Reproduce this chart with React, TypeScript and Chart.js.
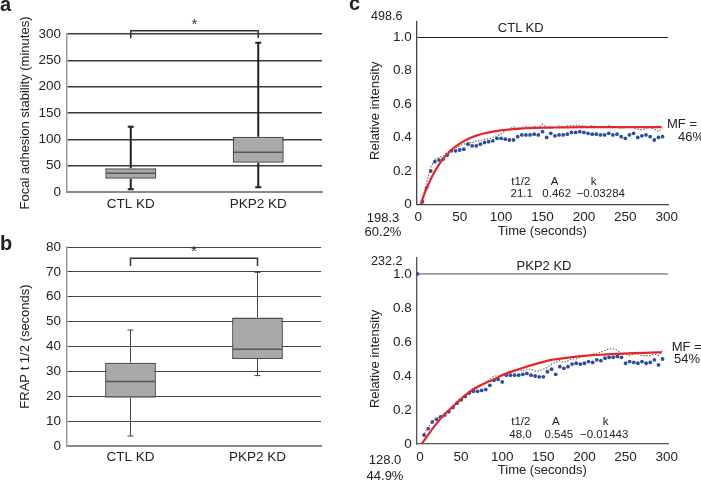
import React, { useEffect, useRef } from 'react';
import { Chart, registerables } from 'chart.js';

Chart.register(...registerables);

const FONT = '"Liberation Sans", Arial, Helvetica, sans-serif';
Chart.defaults.font.family = FONT;

// ---------- Panel a : focal adhesion stability (minutes) ----------
const groups = ['CTL KD', 'PKP2 KD'];
const aMin = [5, 9];
const aQ1 = [25.3, 55.7];
const aMedian = [35.5, 75.3];
const aQ3 = [45, 105];
const aMax = [124, 283.5];

// ---------- Panel b : FRAP t 1/2 (seconds) ----------
const bMin = [4, 28.3];
const bQ1 = [19.4, 35];
const bMedian = [25.9, 38.9];
const bQ3 = [33.5, 51.7];
const bMax = [46.6, 69.8];

// ---------- Panel c : FRAP recovery curves ----------
const frapTimes = [5, 10, 15, 20, 25, 30, 35, 40, 45, 50, 55, 60, 65, 70, 75, 80, 85, 90, 95, 100,
  105, 110, 115, 120, 125, 130, 135, 140, 145, 150, 155, 160, 165, 170, 175, 180, 185, 190, 195, 200,
  205, 210, 215, 220, 225, 230, 235, 240, 245, 250, 255, 260, 265, 270, 275, 280, 285, 290, 295];

const ctlNormalized = [0.016, 0.10, 0.20, 0.255, 0.265, 0.27, 0.295, 0.32, 0.32, 0.325,
  0.33, 0.36, 0.35, 0.35, 0.36, 0.37, 0.375, 0.38, 0.395, 0.395,
  0.39, 0.385, 0.385, 0.405, 0.415, 0.415, 0.415, 0.42, 0.415, 0.435,
  0.40, 0.425, 0.41, 0.415, 0.415, 0.42, 0.43, 0.43, 0.435, 0.43,
  0.425, 0.42, 0.42, 0.415, 0.415, 0.425, 0.415, 0.42, 0.405, 0.395,
  0.415, 0.425, 0.40, 0.41, 0.415, 0.405, 0.385, 0.40, 0.405];
const ctlRaw = [0.03, 0.13, 0.22, 0.27, 0.28, 0.29, 0.31, 0.33, 0.34, 0.35,
  0.36, 0.37, 0.37, 0.38, 0.38, 0.39, 0.39, 0.40, 0.41, 0.42,
  0.44, 0.45, 0.465, 0.455, 0.46, 0.465, 0.46, 0.465, 0.46, 0.48,
  0.46, 0.465, 0.46, 0.47, 0.465, 0.47, 0.47, 0.475, 0.47, 0.47,
  0.465, 0.47, 0.465, 0.46, 0.465, 0.47, 0.465, 0.46, 0.455, 0.46,
  0.465, 0.46, 0.45, 0.445, 0.455, 0.46, 0.45, 0.435, 0.45];
const ctlFitTimes = [3, 5, 10, 15, 20, 25, 30, 40, 50, 60, 70, 80, 90, 100, 120, 140, 160, 180, 200, 240, 294];
const ctlFit = [0, 0.03, 0.095, 0.15, 0.198, 0.238, 0.272, 0.325, 0.363, 0.391, 0.411, 0.425, 0.435, 0.443,
  0.452, 0.457, 0.459, 0.461, 0.462, 0.462, 0.462];

const pkpNormalized = [0.053, 0.09, 0.13, 0.145, 0.16, 0.17, 0.19, 0.215, 0.24, 0.26,
  0.28, 0.30, 0.31, 0.31, 0.315, 0.32, 0.345, 0.375, 0.38, 0.365,
  0.405, 0.405, 0.405, 0.405, 0.41, 0.415, 0.405, 0.40, 0.395, 0.395,
  0.425, 0.44, 0.41, 0.455, 0.445, 0.455, 0.47, 0.475, 0.47, 0.475,
  0.485, 0.48, 0.495, 0.49, 0.505, 0.51, 0.51, 0.515, 0.51, 0.475,
  0.485, 0.48, 0.475, 0.485, 0.475, 0.48, 0.495, 0.465, 0.50];
const pkpRaw = [0.06, 0.10, 0.13, 0.15, 0.16, 0.18, 0.20, 0.22, 0.25, 0.27,
  0.29, 0.31, 0.33, 0.34, 0.35, 0.36, 0.38, 0.40, 0.40, 0.41,
  0.42, 0.43, 0.43, 0.44, 0.43, 0.44, 0.44, 0.43, 0.43, 0.44,
  0.45, 0.47, 0.48, 0.49, 0.48, 0.49, 0.50, 0.50, 0.51, 0.52,
  0.52, 0.53, 0.53, 0.54, 0.55, 0.56, 0.56, 0.55, 0.53, 0.53,
  0.52, 0.53, 0.53, 0.52, 0.52, 0.52, 0.53, 0.52, 0.55];
const pkpFitTimes = [2, 10, 20, 30, 40, 50, 60, 70, 80, 90, 100, 120, 140, 160, 180, 200, 220, 240, 260, 280, 294];
const pkpFit = [0, 0.055, 0.12, 0.175, 0.22, 0.265, 0.305, 0.335, 0.36, 0.38, 0.405, 0.44, 0.47, 0.495,
  0.508, 0.518, 0.525, 0.53, 0.534, 0.537, 0.539];
const pkpPreTimes = [-3];
const pkpPre = [1.0];

// ---------- text annotations ----------
type Lbl = { t: string; x: number; y: number; size: number; bold?: boolean; left?: boolean };
const annotations: Lbl[] = [
  { t: 'a', x: 0, y: 4, size: 20, bold: true, left: true },
  { t: 'b', x: 0, y: 243, size: 20, bold: true, left: true },
  { t: 'c', x: 349, y: 3, size: 20, bold: true, left: true },
  { t: '498.6', x: 386.7, y: 16, size: 12.5 },
  { t: 'CTL KD', x: 520.7, y: 26.7, size: 13 },
  { t: 'MF =', x: 667, y: 122.7, size: 13, left: true },
  { t: '46%', x: 678, y: 135.5, size: 13, left: true },
  { t: 't1/2', x: 520.8, y: 181.7, size: 11.5 },
  { t: 'A', x: 554.7, y: 181.7, size: 11.5 },
  { t: 'k', x: 593.7, y: 181.7, size: 11.5 },
  { t: '21.1', x: 521.7, y: 194, size: 11.5 },
  { t: '0.462', x: 556.7, y: 194, size: 11.5 },
  { t: '\u22120.03284', x: 600.8, y: 194, size: 11.5 },
  { t: '198.3', x: 383, y: 216.7, size: 13 },
  { t: '60.2%', x: 383, y: 231, size: 13 },
  { t: '232.2', x: 386.7, y: 260.7, size: 12.5 },
  { t: 'PKP2 KD', x: 544, y: 265, size: 13 },
  { t: 'MF =', x: 671.7, y: 346, size: 13, left: true },
  { t: '54%', x: 674, y: 358.3, size: 13, left: true },
  { t: 't1/2', x: 520.8, y: 422.3, size: 11.5 },
  { t: 'A', x: 555.8, y: 422.3, size: 11.5 },
  { t: 'k', x: 605.7, y: 422.3, size: 11.5 },
  { t: '48.0', x: 520.5, y: 435, size: 11.5 },
  { t: '0.545', x: 558.8, y: 435, size: 11.5 },
  { t: '\u22120.01443', x: 604.2, y: 435, size: 11.5 },
  { t: '128.0', x: 385, y: 459.3, size: 13 },
  { t: '44.9%', x: 385, y: 475, size: 13 },
];

// ---------- plugins ----------
const boxPlugin = {
  id: 'boxExtras',
  afterDatasetsDraw(chart: any, _args: any, opts: any) {
    const { ctx } = chart;
    const x = chart.scales.x;
    const y = chart.scales.y;
    const meta = chart.getDatasetMeta(0);
    ctx.save();
    opts.min.forEach((_v: number, i: number) => {
      const bar = meta.data[i];
      const cx = bar.x;
      const half = bar.width / 2;
      const pMin = y.getPixelForValue(opts.min[i]);
      const pQ1 = y.getPixelForValue(opts.q1[i]);
      const pMed = y.getPixelForValue(opts.median[i]);
      const pQ3 = y.getPixelForValue(opts.q3[i]);
      const pMax = y.getPixelForValue(opts.max[i]);
      ctx.strokeStyle = opts.whiskerColor;
      ctx.lineWidth = opts.whiskerWidth;
      ctx.beginPath();
      ctx.moveTo(cx, pQ3); ctx.lineTo(cx, pMax);
      ctx.moveTo(cx, pQ1); ctx.lineTo(cx, pMin);
      ctx.moveTo(cx - opts.cap, pMax); ctx.lineTo(cx + opts.cap, pMax);
      ctx.moveTo(cx - opts.cap, pMin); ctx.lineTo(cx + opts.cap, pMin);
      ctx.stroke();
      ctx.strokeStyle = opts.medianColor;
      ctx.lineWidth = opts.medianWidth;
      ctx.beginPath();
      ctx.moveTo(cx - half + 1, pMed); ctx.lineTo(cx + half - 1, pMed);
      ctx.stroke();
    });
    const x0 = x.getPixelForValue(0);
    const x1 = x.getPixelForValue(1);
    const top = y.getPixelForValue(opts.bracketTop);
    const leg = y.getPixelForValue(opts.bracketLeg);
    ctx.strokeStyle = '#333';
    ctx.lineWidth = 1.5;
    ctx.beginPath();
    ctx.moveTo(x0, leg); ctx.lineTo(x0, top); ctx.lineTo(x1, top); ctx.lineTo(x1, leg);
    ctx.stroke();
    ctx.fillStyle = '#333';
    ctx.font = `15px ${FONT}`;
    ctx.textAlign = 'center';
    ctx.textBaseline = 'middle';
    ctx.fillText('*', x.getPixelForValue(0.5), y.getPixelForValue(opts.star));
    ctx.restore();
  },
};

const frapPlugin = {
  id: 'frapExtras',
  afterDraw(chart: any, _args: any, opts: any) {
    const { ctx } = chart;
    const y = chart.scales.y;
    ctx.save();
    ctx.translate(opts.titleX, y.getPixelForValue(opts.titleValue));
    ctx.rotate(-Math.PI / 2);
    ctx.font = `13px ${FONT}`;
    ctx.fillStyle = '#222';
    ctx.textAlign = 'center';
    ctx.textBaseline = 'middle';
    ctx.fillText(opts.title, 0, 0);
    ctx.restore();
  },
};

function boxConfig(p: {
  min: number[]; q1: number[]; median: number[]; q3: number[]; max: number[];
  yMax: number; step: number; title: string; padTop: number; padRight: number; xHeight: number;
  gridColor: string; gridWidth: number; whiskerWidth: number; whiskerColor: string;
  bracketTop: number; bracketLeg: number; star: number; tickPad: number;
}): any {
  return {
    type: 'bar',
    data: {
      labels: groups,
      datasets: [{
        data: p.q1.map((q, i) => [q, p.q3[i]]),
        backgroundColor: '#a9a9a9',
        borderColor: '#4d4d4d',
        borderWidth: 1.5,
        borderSkipped: false,
        barPercentage: 0.4,
        categoryPercentage: 1,
      }],
    },
    options: {
      responsive: false,
      animation: false,
      events: [],
      layout: { padding: { top: p.padTop, right: p.padRight, left: 0, bottom: 0 } },
      plugins: {
        legend: { display: false },
        tooltip: { enabled: false },
        boxExtras: {
          min: p.min, q1: p.q1, median: p.median, q3: p.q3, max: p.max,
          whiskerColor: p.whiskerColor, whiskerWidth: p.whiskerWidth, cap: 3,
          medianColor: '#555', medianWidth: 1.5,
          bracketTop: p.bracketTop, bracketLeg: p.bracketLeg, star: p.star,
        },
      },
      scales: {
        x: {
          offset: true,
          grid: { display: false, drawTicks: false },
          border: { color: '#8a8a8a', width: 2 },
          ticks: { color: '#222', font: { size: 13.5 }, padding: p.tickPad },
          afterFit: (s: any) => { s.height = p.xHeight; },
        },
        y: {
          min: 0,
          max: p.yMax,
          ticks: { stepSize: p.step, color: '#222', font: { size: 13.5 }, padding: 6 },
          grid: {
            color: (c: any) => (c.tick && c.tick.value === 0 ? 'rgba(0,0,0,0)' : p.gridColor),
            lineWidth: p.gridWidth,
            drawTicks: false,
          },
          border: { color: '#9a9a9a', width: 1.5 },
          title: { display: true, text: p.title, color: '#222', font: { size: 13 }, padding: { top: 17.2, bottom: 0 } },
          afterFit: (s: any) => { s.width = 67; },
        },
      },
    },
    plugins: [boxPlugin],
  };
}

function frapConfig(p: {
  norm: number[]; raw: number[]; fitT: number[]; fit: number[]; preT: number[]; pre: number[];
  xMin: number; xMax: number; yMax: number; padTop: number; xHeight: number; titlePadBottom: number;
  tickPad: number; refColor: string; refWidth: number; axisColor: string; titleValue: number;
}): any {
  return {
    type: 'scatter',
    data: {
      datasets: [
        {
          data: p.fitT.map((t, i) => ({ x: t, y: p.fit[i] })),
          showLine: true,
          borderColor: '#e3262b',
          borderWidth: 2.2,
          pointRadius: 0,
          cubicInterpolationMode: 'monotone',
          order: 0,
        },
        {
          data: frapTimes.map((t, i) => ({ x: t, y: p.raw[i] })),
          showLine: true,
          borderColor: '#6f625a',
          borderWidth: 1.1,
          borderDash: [1.5, 1.5],
          pointRadius: 0,
          order: 1,
        },
        {
          data: frapTimes.map((t, i) => ({ x: t, y: p.norm[i] }))
            .concat(p.preT.map((t, i) => ({ x: t, y: p.pre[i] }))),
          showLine: false,
          pointRadius: 1.9,
          pointBackgroundColor: '#2d4e9e',
          pointBorderWidth: 0,
          order: 2,
        },
      ],
    },
    options: {
      responsive: false,
      animation: false,
      events: [],
      layout: { padding: { top: p.padTop, right: 33, left: 0, bottom: 0 } },
      plugins: {
        legend: { display: false },
        tooltip: { enabled: false },
        frapExtras: { title: 'Relative intensity', titleX: 25, titleValue: p.titleValue },
      },
      scales: {
        x: {
          type: 'linear',
          min: p.xMin,
          max: p.xMax,
          ticks: { stepSize: 50, includeBounds: false, color: '#222', font: { size: 13.5 }, padding: p.tickPad },
          grid: { display: false, drawTicks: false },
          border: { color: p.axisColor, width: 1.3 },
          title: { display: true, text: 'Time (seconds)', color: '#222', font: { size: 13 }, padding: { top: 0, bottom: p.titlePadBottom } },
          afterFit: (s: any) => { s.height = p.xHeight; },
        },
        y: {
          min: 0,
          max: p.yMax,
          ticks: {
            stepSize: 0.2,
            includeBounds: false,
            color: '#222',
            font: { size: 13.5 },
            padding: 5,
            callback: (v: any) => (Math.abs(Number(v)) < 1e-9 ? '0' : Number(v).toFixed(1)),
          },
          grid: {
            drawTicks: false,
            color: (c: any) => (c.tick && Math.abs(c.tick.value - 1) < 1e-6 ? p.refColor : 'rgba(0,0,0,0)'),
            lineWidth: p.refWidth,
          },
          border: { color: p.axisColor, width: 1.3 },
          afterFit: (s: any) => { s.width = 66.7; },
        },
      },
    },
    plugins: [frapPlugin],
  };
}

export default function App() {
  const aRef = useRef<HTMLCanvasElement>(null);
  const bRef = useRef<HTMLCanvasElement>(null);
  const c1Ref = useRef<HTMLCanvasElement>(null);
  const c2Ref = useRef<HTMLCanvasElement>(null);

  useEffect(() => {
    const charts: Chart[] = [];
    charts.push(new Chart(aRef.current as HTMLCanvasElement, boxConfig({
      min: aMin, q1: aQ1, median: aMedian, q3: aQ3, max: aMax,
      yMax: 300, step: 50, title: 'Focal adhesion stability (minutes)',
      padTop: 34, padRight: 23, xHeight: 38,
      gridColor: '#3a3a3a', gridWidth: 1.4, whiskerWidth: 2, whiskerColor: '#222',
      bracketTop: 306, bracketLeg: 292, star: 317, tickPad: 4.6,
    })));
    charts.push(new Chart(bRef.current as HTMLCanvasElement, boxConfig({
      min: bMin, q1: bQ1, median: bMedian, q3: bQ3, max: bMax,
      yMax: 80, step: 10, title: 'FRAP t 1/2 (seconds)',
      padTop: 17, padRight: 24, xHeight: 35,
      gridColor: '#444', gridWidth: 1, whiskerWidth: 1, whiskerColor: '#444',
      bracketTop: 75.5, bracketLeg: 72.4, star: 78, tickPad: 3.4,
    })));
    charts.push(new Chart(c1Ref.current as HTMLCanvasElement, frapConfig({
      norm: ctlNormalized, raw: ctlRaw, fitT: ctlFitTimes, fit: ctlFit, preT: [], pre: [],
      xMin: -1.93, xMax: 301.57, yMax: 1.093, padTop: 21.7, xHeight: 35.7, titlePadBottom: 0.5,
      tickPad: 4.6, refColor: '#222', refWidth: 1, axisColor: '#444', titleValue: 0.56,
    })));
    charts.push(new Chart(c2Ref.current as HTMLCanvasElement, frapConfig({
      norm: pkpNormalized, raw: pkpRaw, fitT: pkpFitTimes, fit: pkpFit, preT: pkpPreTimes, pre: pkpPre,
      xMin: -4, xMax: 301.6, yMax: 1.098, padTop: 17.3, xHeight: 37, titlePadBottom: 2.5,
      tickPad: 4.9, refColor: '#9a9a9a', refWidth: 1.8, axisColor: '#555', titleValue: 0.5,
    })));
    return () => { charts.forEach((c) => c.destroy()); };
  }, []);

  const abs = (left: number, top: number): React.CSSProperties => ({ position: 'absolute', left, top });

  return (
    <div style={{ position: 'absolute', left: 0, top: 0, width: 701, height: 481, background: '#fff', overflow: 'hidden', fontFamily: FONT }}>
      <canvas ref={aRef} width={345} height={230} style={abs(0, 0)} />
      <canvas ref={bRef} width={345} height={251} style={abs(0, 230)} />
      <canvas ref={c1Ref} width={351} height={240} style={abs(350, 0)} />
      <canvas ref={c2Ref} width={351} height={241} style={abs(350, 240)} />
      {annotations.map((l, i) => (
        <div
          key={i}
          style={{
            position: 'absolute',
            left: l.x,
            top: l.y,
            transform: l.left ? 'translate(0,-50%)' : 'translate(-50%,-50%)',
            fontSize: l.size,
            fontWeight: l.bold ? 700 : 400,
            lineHeight: 1,
            whiteSpace: 'nowrap',
            color: '#222',
          }}
        >
          {l.t}
        </div>
      ))}
    </div>
  );
}
